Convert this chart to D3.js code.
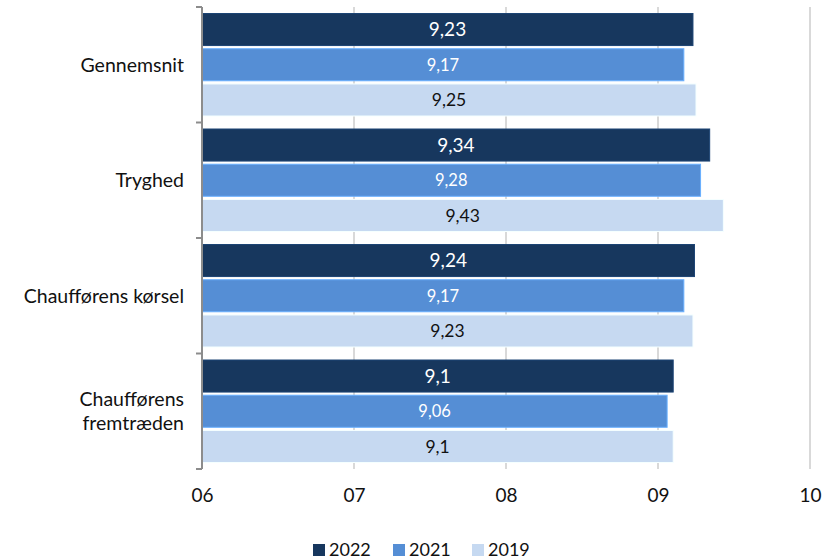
<!DOCTYPE html>
<html>
<head>
<meta charset="utf-8">
<script src="https://cdn.jsdelivr.net/npm/d3@7"></script>
<style>
  html, body { margin: 0; padding: 0; background: #fff; }
  svg { display: block; font-family: "Lato", "Open Sans", sans-serif; }
</style>
</head>
<body>
<svg id="chart" width="833" height="559"></svg>
<script>
// Satisfaction scores per theme, three survey years
const categories = ["Gennemsnit", "Tryghed", "Chaufførens kørsel", "Chaufførens fremtræden"];
const years = ["2022", "2021", "2019"];
const values2022 = [9.23, 9.34, 9.24, 9.1];
const values2021 = [9.17, 9.28, 9.17, 9.06];
const values2019 = [9.25, 9.43, 9.23, 9.1];
const tickValues = [6, 7, 8, 9, 10];
const tickLabels = ["06", "07", "08", "09", "10"];

const seriesValues = [values2022, values2021, values2019];
const colors = ["#17375E", "#558ED5", "#C6D9F1"];
const labelColors = ["#ffffff", "#ffffff", "#111111"];
const labelSizes = [19, 16.5, 17.5];

const svg = d3.select("#chart");
const plotLeft = 202, plotRight = 810, plotTop = 7, plotBottom = 469;

const x = d3.scaleLinear().domain([6, 10]).range([plotLeft, plotRight]);
const y0 = d3.scaleBand().domain(categories).range([plotTop, plotBottom]).paddingInner(0).paddingOuter(0);
const y1 = d3.scaleBand().domain(years).range([6.5, y0.bandwidth() - 6.5]).paddingInner(0.09).paddingOuter(0);

// vertical gridlines
svg.append("g").selectAll("line")
  .data(tickValues.slice(1))
  .join("line")
  .attr("x1", d => x(d)).attr("x2", d => x(d))
  .attr("y1", plotTop).attr("y2", plotBottom)
  .attr("stroke", "#d9d9d9").attr("stroke-width", 2);

// bars
const groups = svg.append("g").selectAll("g")
  .data(categories)
  .join("g")
  .attr("transform", c => `translate(0,${y0(c)})`);

years.forEach((yr, si) => {
  groups.append("rect")
    .attr("x", x(6))
    .attr("y", y1(yr))
    .attr("width", (c, i) => x(seriesValues[si][i]) - x(6))
    .attr("height", y1.bandwidth())
    .attr("fill", colors[si])
    .attr("stroke", d3.color(colors[si]).brighter(0.6))
    .attr("stroke-width", 1);

  groups.append("text")
    .attr("x", (c, i) => (x(6) + x(seriesValues[si][i])) / 2)
    .attr("y", y1(yr) + y1.bandwidth() / 2)
    .attr("dy", "0.36em")
    .attr("text-anchor", "middle")
    .attr("fill", labelColors[si])
    .attr("font-size", labelSizes[si])
    .text((c, i) => String(seriesValues[si][i]).replace(".", ","));
});

// category axis line
svg.append("line")
  .attr("x1", plotLeft).attr("x2", plotLeft)
  .attr("y1", plotTop).attr("y2", plotBottom)
  .attr("stroke", "#8c8c8c").attr("stroke-width", 2);
// tick marks at category boundaries
svg.append("g").selectAll("line")
  .data(d3.range(categories.length + 1))
  .join("line")
  .attr("x1", plotLeft - 6).attr("x2", plotLeft)
  .attr("y1", i => plotTop + i * y0.bandwidth())
  .attr("y2", i => plotTop + i * y0.bandwidth())
  .attr("stroke", "#8c8c8c").attr("stroke-width", 2);

// category labels (wrapped where long)
const catLines = {
  "Gennemsnit": ["Gennemsnit"],
  "Tryghed": ["Tryghed"],
  "Chaufførens kørsel": ["Chaufførens kørsel"],
  "Chaufførens fremtræden": ["Chaufførens", "fremtræden"]
};
categories.forEach(c => {
  const lines = catLines[c];
  const cy = y0(c) + y0.bandwidth() / 2;
  const lh = 24;
  const t = svg.append("text")
    .attr("text-anchor", "end")
    .attr("font-size", 19.5)
    .attr("fill", "#111");
  lines.forEach((ln, k) => {
    t.append("tspan")
      .attr("x", 184)
      .attr("y", cy + (k - (lines.length - 1) / 2) * lh)
      .attr("dy", "0.36em")
      .text(ln);
  });
});

// value axis
const xAxis = d3.axisBottom(x).tickValues(tickValues).tickSize(0)
  .tickFormat((d, i) => tickLabels[i]);
const xAxisG = svg.append("g").attr("transform", `translate(0,${plotBottom})`).call(xAxis);
xAxisG.select(".domain").remove();
xAxisG.selectAll("text")
  .attr("font-family", "Lato, 'Open Sans', sans-serif")
  .attr("font-size", 19)
  .attr("fill", "#111")
  .attr("y", 20);

// legend
const legendX = [313, 393, 472];
const legend = svg.append("g").selectAll("g")
  .data(years)
  .join("g")
  .attr("transform", (d, i) => `translate(${legendX[i]},544)`);
legend.append("rect")
  .attr("width", 12).attr("height", 12)
  .attr("fill", (d, i) => colors[i]);
legend.append("text")
  .attr("x", 16).attr("y", 6).attr("dy", "0.34em")
  .attr("font-size", 18).attr("fill", "#111")
  .text(d => d);
</script>
</body>
</html>
